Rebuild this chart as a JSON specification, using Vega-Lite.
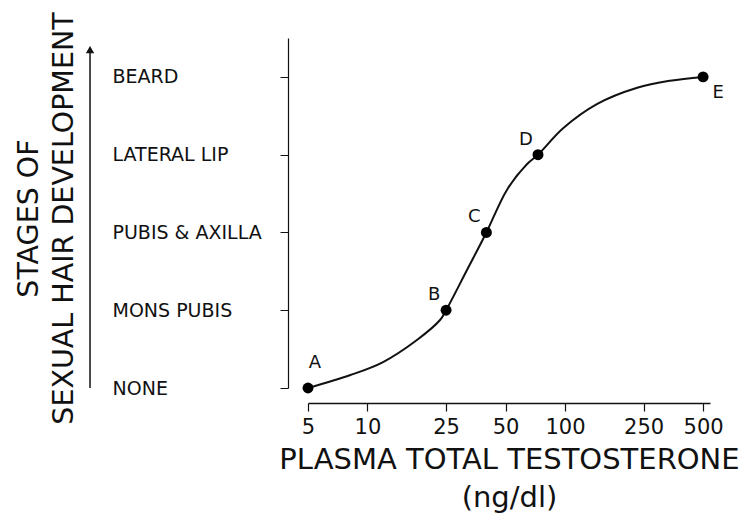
{
  "$schema": "https://vega.github.io/schema/vega-lite/v6.json",
  "width": 402,
  "height": 350,
  "autosize": {"type": "none"},
  "padding": {"left": 308, "top": 38, "right": 40, "bottom": 127},
  "background": "white",
  "config": {
    "view": {"stroke": null},
    "font": "DejaVu Sans",
    "axis": {"domainColor": "#111", "tickColor": "#111", "labelColor": "#111", "titleColor": "#111", "grid": false, "labelFont": "DejaVu Sans", "titleFont": "DejaVu Sans", "titleFontWeight": "normal"}
  },
  "datasets": {
    "stages": [
      {"t": 5, "stage": 0, "label": "A"},
      {"t": 25, "stage": 1, "label": "B"},
      {"t": 40, "stage": 2, "label": "C"},
      {"t": 73, "stage": 3, "label": "D"},
      {"t": 500, "stage": 4, "label": "E"}
    ],
    "curve": [
      {"t": 5, "stage": 0},
      {"t": 8.2, "stage": 0.167},
      {"t": 12.0, "stage": 0.334},
      {"t": 17.8, "stage": 0.617},
      {"t": 23.3, "stage": 0.874},
      {"t": 25, "stage": 1},
      {"t": 31.9, "stage": 1.517},
      {"t": 40, "stage": 2},
      {"t": 50.9, "stage": 2.55},
      {"t": 64.3, "stage": 2.88},
      {"t": 73, "stage": 3},
      {"t": 97.8, "stage": 3.34},
      {"t": 145, "stage": 3.65},
      {"t": 232, "stage": 3.86},
      {"t": 340, "stage": 3.95},
      {"t": 500, "stage": 4}
    ],
    "arrow": [
      {"t": 0.394, "from": 0, "to": 4.35}
    ]
  },
  "layer": [
    {
      "data": {"name": "curve"},
      "mark": {"type": "line", "interpolate": "catmull-rom", "color": "#111", "strokeWidth": 2},
      "encoding": {
        "x": {
          "field": "t", "type": "quantitative",
          "scale": {"type": "log", "domain": [5, 542], "nice": false},
          "axis": {
            "values": [5, 10, 25, 50, 100, 250, 500],
            "offset": 15,
            "tickSize": 8,
            "tickWidth": 1.2,
            "domainWidth": 1.5,
            "labelFontSize": 21,
            "labelPadding": 5,
            "labelFlush": false,
            "labelOverlap": false,
            "labelExpr": "format(datum.value, 'd')",
            "title": ["PLASMA TOTAL TESTOSTERONE", "(ng/dl)"],
            "titleFontSize": 29,
            "titleLineHeight": 38,
            "titlePadding": 8
          }
        },
        "y": {
          "field": "stage", "type": "quantitative",
          "scale": {"domain": [0, 4.5], "nice": false, "zero": false},
          "axis": {
            "values": [0, 0.5, 1, 1.5, 2, 2.5, 3, 3.5, 4, 4.5],
            "offset": 20,
            "tickSize": 8,
            "tickWidth": 1,
            "domainWidth": 1.2,
            "labelFontSize": 19,
            "labelAlign": "left",
            "labelPadding": 168,
            "labelExpr": "datum.value === 0 ? 'NONE' : datum.value === 1 ? 'MONS  PUBIS' : datum.value === 2 ? 'PUBIS & AXILLA' : datum.value === 3 ? 'LATERAL LIP' : datum.value === 4 ? 'BEARD' : ''",
            "title": ["STAGES OF", "SEXUAL HAIR DEVELOPMENT"],
            "titleFontSize": 28.5,
            "titleLineHeight": 35,
            "titleX": -251,
            "titleY": 180,
            "titleAngle": -90,
            "titleAlign": "center",
            "titleBaseline": "alphabetic"
          }
        }
      }
    },
    {
      "data": {"name": "stages"},
      "mark": {"type": "point", "filled": true, "color": "#000", "size": 120, "opacity": 1},
      "encoding": {
        "x": {"field": "t", "type": "quantitative"},
        "y": {"field": "stage", "type": "quantitative"}
      }
    },
    {
      "data": {"name": "stages"},
      "transform": [{"filter": "datum.label === 'A'"}],
      "mark": {"type": "text", "fontSize": 18, "color": "#111", "dx": 7, "dy": -25},
      "encoding": {
        "x": {"field": "t", "type": "quantitative"},
        "y": {"field": "stage", "type": "quantitative"},
        "text": {"field": "label"}
      }
    },
    {
      "data": {"name": "stages"},
      "transform": [{"filter": "datum.label === 'B' || datum.label === 'C' || datum.label === 'D'"}],
      "mark": {"type": "text", "fontSize": 18, "color": "#111", "dx": -12, "dy": -15},
      "encoding": {
        "x": {"field": "t", "type": "quantitative"},
        "y": {"field": "stage", "type": "quantitative"},
        "text": {"field": "label"}
      }
    },
    {
      "data": {"name": "stages"},
      "transform": [{"filter": "datum.label === 'E'"}],
      "mark": {"type": "text", "fontSize": 18, "color": "#111", "dx": 15, "dy": 16},
      "encoding": {
        "x": {"field": "t", "type": "quantitative"},
        "y": {"field": "stage", "type": "quantitative"},
        "text": {"field": "label"}
      }
    },
    {
      "data": {"name": "arrow"},
      "mark": {"type": "rule", "color": "#111", "strokeWidth": 1.5},
      "encoding": {
        "x": {"field": "t", "type": "quantitative"},
        "y": {"field": "from", "type": "quantitative"},
        "y2": {"field": "to"}
      }
    },
    {
      "data": {"name": "arrow"},
      "mark": {"type": "point", "shape": "triangle-up", "filled": true, "color": "#111", "size": 70, "opacity": 1},
      "encoding": {
        "x": {"field": "t", "type": "quantitative"},
        "y": {"field": "to", "type": "quantitative"}
      }
    }
  ]
}
